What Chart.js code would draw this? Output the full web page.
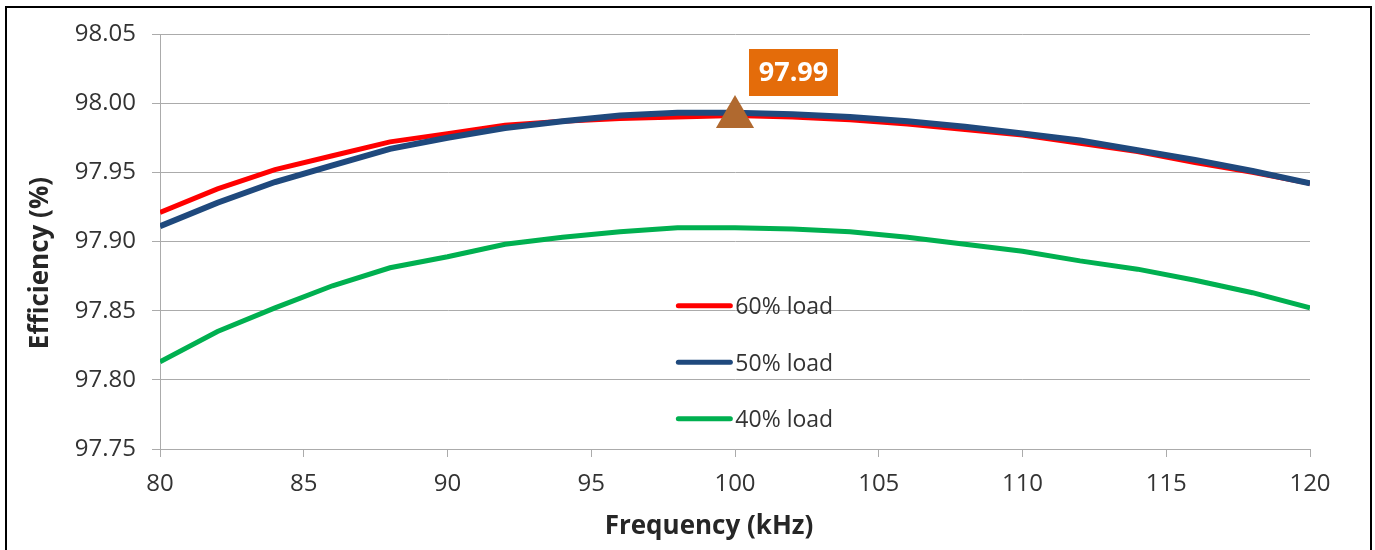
<!DOCTYPE html>
<html>
<head>
<meta charset="utf-8">
<title>Efficiency vs Frequency</title>
<script src="https://cdn.jsdelivr.net/npm/chart.js@4.4.0/dist/chart.umd.min.js"></script>
<style>
  html, body { margin: 0; padding: 0; background: #fff; overflow: hidden; }
  #wrap { position: relative; width: 1375px; height: 550px; }
  #frame {
    position: absolute; left: 5px; top: 6px; width: 1367px; height: 600px;
    border: 2.5px solid #000; box-sizing: border-box; pointer-events: none;
  }
  canvas { position: absolute; left: 0; top: 0; }
</style>
</head>
<body>
<div id="wrap">
  <canvas id="eff-chart" width="1375" height="550"></canvas>
  <div id="frame"></div>
</div>
<script>
//Global variables
var freqKHz = [80, 82, 84, 86, 88, 90, 92, 94, 96, 98, 100, 102, 104, 106, 108, 110, 112, 114, 116, 118, 120];
var load60 = [97.921, 97.938, 97.952, 97.962, 97.972, 97.978, 97.984, 97.987, 97.989, 97.990, 97.991,
              97.990, 97.988, 97.985, 97.981, 97.977, 97.971, 97.965, 97.957, 97.950, 97.942];
var load50 = [97.911, 97.928, 97.943, 97.955, 97.967, 97.975, 97.982, 97.987, 97.991, 97.993, 97.993,
              97.992, 97.990, 97.987, 97.983, 97.978, 97.973, 97.966, 97.959, 97.951, 97.942];
var load40 = [97.813, 97.835, 97.852, 97.868, 97.881, 97.889, 97.898, 97.903, 97.907, 97.910, 97.910,
              97.909, 97.907, 97.903, 97.898, 97.893, 97.886, 97.880, 97.872, 97.863, 97.852];
var seriesNames = ["60% load", "50% load", "40% load"];
var peakFreq = [100];
var peakEff = [97.99];

var fontFam = "'Open Sans', 'DejaVu Sans', sans-serif";
var gridGray = "#ABABAB";

/*******************************
* Pairs the frequency list with one series
*******************************/
function toPoints(xs, ys) {
  return xs.map(function (f, i) { return { x: f, y: ys[i] }; });
}

/*******************************
* Draws the in-plot legend, the peak label and the axis titles
*******************************/
var overlayPlugin = {
  id: "overlay",
  afterDatasetsDraw: function (chart) {
    var ctx = chart.ctx;
    var area = chart.chartArea;
    var w = area.right - area.left;
    var h = area.bottom - area.top;

    // legend inside the plot
    var lx = area.left + 0.449 * w;
    var ly = area.top + 0.655 * h;
    ctx.save();
    for (var i = 0; i < 3; i++) {
      var ds = chart.data.datasets[i];
      var y = ly + i * 56.5;
      ctx.strokeStyle = ds.borderColor;
      ctx.lineWidth = 5;
      ctx.lineCap = "round";
      ctx.beginPath();
      ctx.moveTo(lx + 2, y);
      ctx.lineTo(lx + 54, y);
      ctx.stroke();
      ctx.fillStyle = "#333333";
      ctx.font = "23px " + fontFam;
      ctx.textAlign = "left";
      ctx.textBaseline = "middle";
      ctx.fillText(ds.label, lx + 59, y + 2);
    }

    // peak value box
    var px = chart.scales.x.getPixelForValue(peakFreq[0]);
    var py = chart.scales.y.getPixelForValue(peakEff[0]);
    var bx = px + 14, by = py - 68, bw = 89, bh = 47;
    ctx.fillStyle = "#E46C0A";
    ctx.fillRect(bx, by, bw, bh);
    ctx.fillStyle = "#FFFFFF";
    ctx.font = "bold 27px " + fontFam;
    ctx.textAlign = "center";
    ctx.textBaseline = "middle";
    ctx.fillText(peakEff[0].toFixed(2), bx + bw / 2, by + bh / 2 + 1);
    ctx.restore();
  },
  afterDraw: function (chart) {
    var ctx = chart.ctx;
    ctx.save();
    ctx.fillStyle = "#262626";
    ctx.font = "bold 26px " + fontFam;
    ctx.textAlign = "center";
    ctx.textBaseline = "middle";
    ctx.fillText("Frequency (kHz)", 709, 527);
    ctx.translate(41, 263);
    ctx.rotate(-Math.PI / 2);
    ctx.fillText("Efficiency (%)", 0, 0);
    ctx.restore();
  }
};

new Chart("eff-chart", {
  type: "line",
  data: {
    datasets: [
      {
        label: seriesNames[0],
        data: toPoints(freqKHz, load60),
        borderColor: "#FF0000",
        borderWidth: 5,
        pointRadius: 0,
        tension: 0,
        fill: false,
        order: 2
      },
      {
        label: seriesNames[1],
        data: toPoints(freqKHz, load50),
        borderColor: "#1F497D",
        borderWidth: 6,
        pointRadius: 0,
        tension: 0,
        fill: false,
        order: 1
      },
      {
        label: seriesNames[2],
        data: toPoints(freqKHz, load40),
        borderColor: "#00B050",
        borderWidth: 5,
        pointRadius: 0,
        tension: 0,
        fill: false,
        order: 3
      },
      {
        label: "peak",
        data: toPoints(peakFreq, peakEff),
        showLine: false,
        pointStyle: "triangle",
        pointRadius: 22,
        pointBackgroundColor: "#B0692F",
        pointBorderWidth: 0,
        order: 0
      }
    ]
  },
  options: {
    responsive: false,
    animation: false,
    layout: { padding: { left: 0, right: 65, top: 34, bottom: 0 } },
    plugins: {
      legend: { display: false },
      tooltip: { enabled: false }
    },
    scales: {
      x: {
        type: "linear",
        min: 80,
        max: 120,
        afterFit: function (s) { s.height = 101; },
        ticks: {
          stepSize: 5,
          padding: 13,
          color: "#333333",
          font: { family: fontFam, size: 24 }
        },
        grid: { drawOnChartArea: false, tickLength: 8, color: gridGray },
        border: { color: gridGray }
      },
      y: {
        min: 97.75,
        max: 98.05,
        afterFit: function (s) { s.width = 160; },
        ticks: {
          stepSize: 0.05,
          padding: 16,
          color: "#333333",
          font: { family: fontFam, size: 24 },
          callback: function (v) { return Number(v).toFixed(2); }
        },
        grid: { tickLength: 8, color: gridGray },
        border: { color: gridGray }
      }
    }
  },
  plugins: [overlayPlugin]
});
</script>
</body>
</html>
